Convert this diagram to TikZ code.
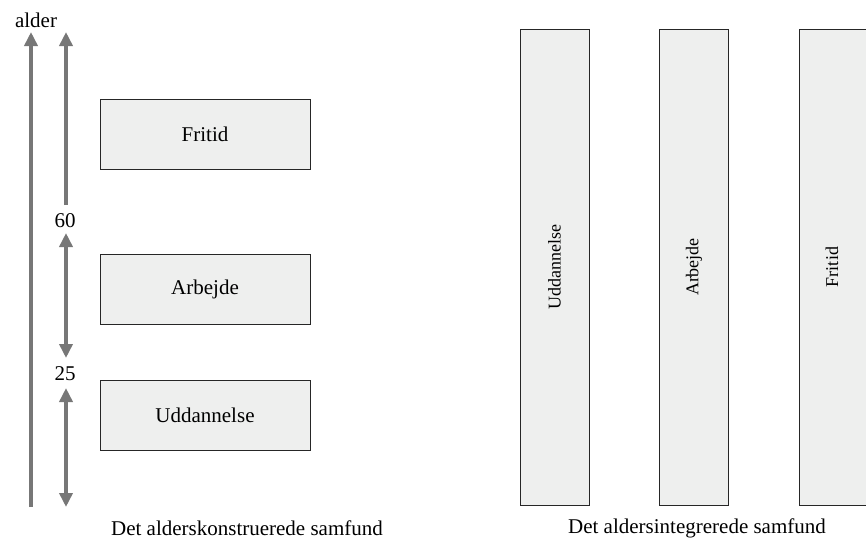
\documentclass[tikz,border=0pt]{standalone}
\usepackage{fontspec}
\setmainfont{Liberation Serif}
\usetikzlibrary{arrows.meta}
\definecolor{boxfill}{HTML}{EEEFEE}
\definecolor{arrowgray}{HTML}{777777}
\begin{document}
\begin{tikzpicture}[x=1pt,y=-1pt,
  hbox/.style={draw=black!85,line width=1pt,fill=boxfill,minimum width=210pt,minimum height=70pt,font=\fontsize{21}{24}\selectfont},
  vbox/.style={draw=black!85,line width=1pt,fill=boxfill,minimum width=69pt,minimum height=476pt},
  vlabel/.style={rotate=90,font=\fontsize{18}{21}\selectfont},
  axis/.style={draw=arrowgray,line width=3.5pt,-{Triangle[length=14pt,width=13pt]}},
  darrow/.style={draw=arrowgray,line width=3.5pt,{Triangle[length=14pt,width=13pt]}-{Triangle[length=14pt,width=13pt]}},
  lbl/.style={font=\fontsize{21}{24}\selectfont,inner sep=1pt}]
\useasboundingbox (0,0) rectangle (866,549);
% left boxes
\node[hbox] (fritid) at (205,134.5) {Fritid};
\node[hbox] (arbejde) at (205,289) {Arbejde};
\node[hbox] (udd) at (205,415) {Uddannelse};
% axis
\coordinate (a0) at (31,507);
\coordinate (a1) at (31,32);
\draw[axis] (a0) -- (a1);
\node[lbl] (alder) at (36,20) {alder};
% age markers
\node[lbl] (l60) at (65,221) {60};
\node[lbl] (l25) at (65,374) {25};
\coordinate (t0) at (66,205);
\coordinate (t1) at (66,32);
\draw[axis] (t0) -- (t1);
\coordinate (m0) at (66,233);
\coordinate (m1) at (66,358);
\draw[darrow] (m0) -- (m1);
\coordinate (b0) at (66,388);
\coordinate (b1) at (66,507);
\draw[darrow] (b0) -- (b1);
% right boxes
\node[vbox] (vudd) at (554.5,267) {};
\node[vlabel] at (vudd) {Uddannelse};
\node[vbox] (varb) at (694,267) {};
\node[vlabel] at (varb) {Arbejde};
\node[vbox] (vfri) at (833.5,267) {};
\node[vlabel] at (832,267) {Fritid};
% captions
\node[lbl] (cap1) at (247,528) {Det alderskonstruerede samfund};
\node[lbl] (cap2) at (697,528) {Det aldersintegrerede samfund};
\end{tikzpicture}
\end{document}
